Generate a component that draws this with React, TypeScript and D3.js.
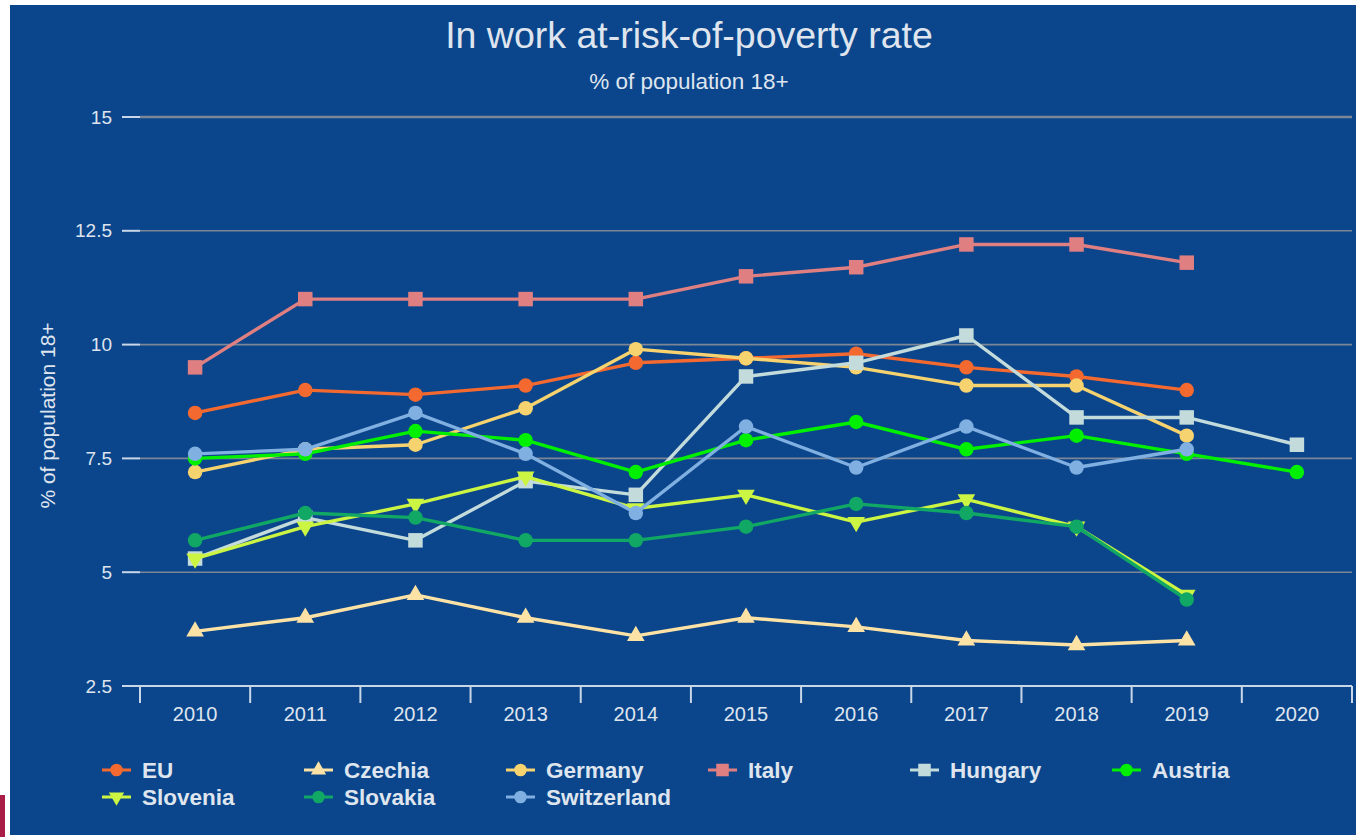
import React from "react";
import * as d3 from "d3";

const years = ["2010","2011","2012","2013","2014","2015","2016","2017","2018","2019","2020"];
const yTicks = [2.5, 5, 7.5, 10, 12.5, 15];

const euValues = [8.5, 9.0, 8.9, 9.1, 9.6, 9.7, 9.8, 9.5, 9.3, 9.0, null];
const czechiaValues = [3.7, 4.0, 4.5, 4.0, 3.6, 4.0, 3.8, 3.5, 3.4, 3.5, null];
const germanyValues = [7.2, 7.7, 7.8, 8.6, 9.9, 9.7, 9.5, 9.1, 9.1, 8.0, null];
const italyValues = [9.5, 11.0, 11.0, 11.0, 11.0, 11.5, 11.7, 12.2, 12.2, 11.8, null];
const hungaryValues = [5.3, 6.2, 5.7, 7.0, 6.7, 9.3, 9.6, 10.2, 8.4, 8.4, 7.8];
const austriaValues = [7.5, 7.6, 8.1, 7.9, 7.2, 7.9, 8.3, 7.7, 8.0, 7.6, 7.2];
const sloveniaValues = [5.3, 6.0, 6.5, 7.1, 6.4, 6.7, 6.1, 6.6, 6.0, 4.5, null];
const slovakiaValues = [5.7, 6.3, 6.2, 5.7, 5.7, 6.0, 6.5, 6.3, 6.0, 4.4, null];
const switzerlandValues = [7.6, 7.7, 8.5, 7.6, 6.3, 8.2, 7.3, 8.2, 7.3, 7.7, null];

const seriesNames = ["EU","Czechia","Germany","Italy","Hungary","Austria","Slovenia","Slovakia","Switzerland"];
const seriesValues = [euValues, czechiaValues, germanyValues, italyValues, hungaryValues, austriaValues, sloveniaValues, slovakiaValues, switzerlandValues];
const seriesColors = ["#f4692f","#fde2a6","#f7d36f","#e07f81","#c3dbdb","#00f000","#ccf443","#11a764","#80afe1"];
const seriesShapes = ["circle","triangle","circle","square","square","circle","triangleDown","circle","circle"];

const W = 1356, H = 837;
const left = 140, right = 1352, top = 117, bottom = 686;
const TXT = "#dfe5ee";
const FONT = "'Liberation Sans', Arial, sans-serif";

function symbolPath(shape: string, big: boolean) {
  const s = big ? 1 : 0.75;
  if (shape === "circle") return d3.symbol(d3.symbolCircle, 165 * s)()!;
  if (shape === "square") return d3.symbol(d3.symbolSquare, 210 * s)()!;
  return d3.symbol(d3.symbolTriangle, 135 * s)()!;
}

export default function App() {
  const x = d3.scaleBand<string>().domain(years).range([left, right]).padding(0);
  const y = d3.scaleLinear().domain([2.5, 15]).range([bottom, top]);
  const cx = (yr: string) => (x(yr) as number) + x.bandwidth() / 2;

  const line = d3.line<[string, number | null]>()
    .defined(d => d[1] != null)
    .x(d => cx(d[0]))
    .y(d => y(d[1] as number));

  const edges = [...years.map(yr => x(yr) as number), right];

  return (
    <>
      <style>{`body{margin:0}`}</style>
      <svg width={W} height={H} style={{ display: "block" }} fontFamily={FONT}>
        <defs>
          <filter id="blur" x="-50%" y="-10%" width="200%" height="120%">
            <feGaussianBlur stdDeviation="1.5" />
          </filter>
        </defs>
        <rect x={0} y={0} width={W} height={H} fill="#ffffff" />
        <rect x={10} y={5} width={W - 10} height={830} fill="#0b468c" />
        <rect x={0} y={795} width={5} height={42} fill="#a81d48" />

        <text x={689} y={48} textAnchor="middle" fontSize={37.5} fill={TXT}>In work at-risk-of-poverty rate</text>
        <text x={689} y={89} textAnchor="middle" fontSize={22.5} fill={TXT}>% of population 18+</text>

        {/* plot frame shadow */}
        <line x1={left + 1.5} x2={left + 1.5} y1={top} y2={bottom} stroke="#042850" strokeWidth={5} filter="url(#blur)" />
        <line x1={right} x2={right} y1={top} y2={bottom} stroke="#042850" strokeWidth={5} filter="url(#blur)" />
        <line x1={left} x2={right} y1={top + 2} y2={top + 2} stroke="#042850" strokeWidth={3} filter="url(#blur)" />

        {/* grid */}
        {yTicks.filter(t => t > 2.5).map(t => (
          <line key={"g" + t} x1={left} x2={right} y1={y(t)} y2={y(t)} stroke="#7d8696" strokeWidth={t === 15 ? 2.5 : 1.6} />
        ))}
        {/* y ticks */}
        {yTicks.map(t => (
          <g key={"yt" + t}>
            <line x1={122} x2={left} y1={y(t)} y2={y(t)} stroke="#c9d6e8" strokeWidth={2} />
            <text x={112} y={y(t)} dy="0.35em" textAnchor="end" fontSize={19} fill={TXT}>{t}</text>
          </g>
        ))}
        {/* x axis */}
        <line x1={left} x2={right} y1={bottom} y2={bottom} stroke="#c9d6e8" strokeWidth={2} />
        {edges.map((e, i) => (
          <line key={"xt" + i} x1={e} x2={e} y1={bottom} y2={bottom + 17} stroke="#c9d6e8" strokeWidth={2} />
        ))}
        {years.map(yr => (
          <text key={"xl" + yr} x={cx(yr)} y={721} textAnchor="middle" fontSize={20} fill={TXT}>{yr}</text>
        ))}

        <text transform={`translate(55,${(top + bottom) / 2 + 14}) rotate(-90)`} textAnchor="middle" fontSize={21} fill={TXT}>% of population 18+</text>

        {/* series */}
        {seriesNames.map((name, si) => {
          const data = years.map((yr, i) => [yr, seriesValues[si][i]] as [string, number | null]);
          const col = seriesColors[si];
          const shape = seriesShapes[si];
          const p = symbolPath(shape, true);
          return (
            <g key={name}>
              <path d={line(data) || ""} fill="none" stroke={col} strokeWidth={3.4} strokeLinejoin="round" />
              {data.filter(d => d[1] != null).map(d => (
                <path key={d[0]} d={p} fill={col}
                  transform={`translate(${cx(d[0])},${y(d[1] as number)})${shape === "triangleDown" ? " rotate(180)" : ""}`} />
              ))}
            </g>
          );
        })}

        {/* legend */}
        {seriesNames.map((name, si) => {
          const col = si % 6;
          const row = Math.floor(si / 6);
          const lx = 102 + col * 202;
          const ly = 770 + row * 27;
          const shape = seriesShapes[si];
          const c = seriesColors[si];
          return (
            <g key={"lg" + name}>
              <line x1={lx} x2={lx + 29} y1={ly} y2={ly} stroke={c} strokeWidth={3} />
              <path d={symbolPath(shape, false)} fill={c}
                transform={`translate(${lx + 14.5},${ly})${shape === "triangleDown" ? " rotate(180)" : ""}`} />
              <text x={lx + 40} y={ly} dy="0.36em" fontSize={22.5} fontWeight="bold" fill={TXT}>{name}</text>
            </g>
          );
        })}
      </svg>
    </>
  );
}
